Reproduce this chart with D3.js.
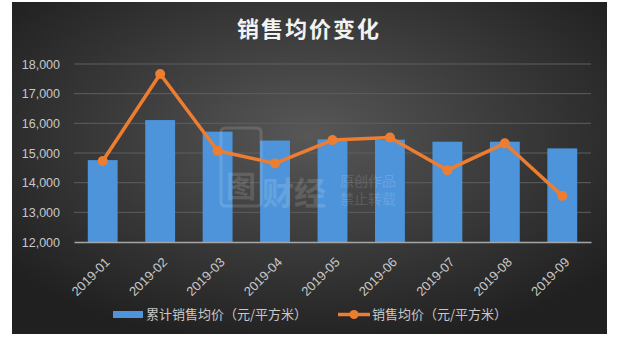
<!DOCTYPE html>
<html>
<head>
<meta charset="utf-8">
<script src="https://cdn.jsdelivr.net/npm/d3@7"></script>
<style>
  body { margin: 0; background: #fff; }
  text { font-family: "Liberation Sans", "Noto Sans CJK SC", sans-serif; }
</style>
</head>
<body>
<div id="chart"></div>
<script>
var months = ["2019-01", "2019-02", "2019-03", "2019-04", "2019-05", "2019-06", "2019-07", "2019-08", "2019-09"];
var cumPrice = [14760, 16110, 15720, 15420, 15460, 15450, 15380, 15380, 15155];
var monthPrice = [14730, 17665, 15075, 14650, 15435, 15525, 14420, 15325, 13555];
var yTicks = [12000, 13000, 14000, 15000, 16000, 17000, 18000];
var title = "销售均价变化";
var barName = "累计销售均价（元/平方米）";
var lineName = "销售均价（元/平方米）";

var W = 620, H = 351;
var margin = {top: 64, right: 29, bottom: 109, left: 74},
    width = W - margin.left - margin.right,
    height = H - margin.top - margin.bottom;

var root = d3.select("#chart").append("svg")
    .attr("width", W)
    .attr("height", H);

var defs = root.append("defs");
var grad = defs.append("radialGradient")
    .attr("id", "bg")
    .attr("cx", "50%").attr("cy", "40%").attr("r", "65%");
grad.append("stop").attr("offset", "0%").attr("stop-color", "#575757");
grad.append("stop").attr("offset", "100%").attr("stop-color", "#202020");

root.append("rect")
    .attr("x", 12).attr("y", 2)
    .attr("width", 595).attr("height", 332)
    .attr("fill", "url(#bg)");

root.append("text")
    .attr("x", 309)
    .attr("y", 37)
    .attr("text-anchor", "middle")
    .attr("fill", "#f2f2f2")
    .style("font-size", "22px")
    .style("font-weight", "bold")
    .style("letter-spacing", "2px")
    .style("font-family", "'Noto Sans CJK SC', sans-serif")
    .text(title);

var svg = root.append("g")
    .attr("transform", "translate(" + margin.left + "," + margin.top + ")");

var x = d3.scaleBand()
    .domain(months)
    .range([0, width])
    .paddingInner(0.48)
    .paddingOuter(0.24);

var y = d3.scaleLinear()
    .domain([12000, 18000])
    .range([height, 0]);

// gridlines
svg.append("g")
    .selectAll("line")
    .data(yTicks.slice(1))
    .enter()
    .append("line")
        .attr("x1", 0)
        .attr("x2", width)
        .attr("y1", function(d) { return y(d) })
        .attr("y2", function(d) { return y(d) })
        .attr("stroke", "#5e5e5e")
        .attr("stroke-width", 1);

var yAxis = svg.append("g")
    .call(d3.axisLeft(y).tickValues(yTicks).tickSize(0).tickPadding(14).tickFormat(d3.format(",")));
yAxis.select(".domain").remove();
yAxis.selectAll("text")
    .attr("fill", "#c8c8c8")
    .style("font-size", "12.5px");

svg.append("g")
    .selectAll("rect")
    .data(cumPrice)
    .enter()
    .append("rect")
        .attr("x", function(d, i) { return x(months[i]) })
        .attr("y", function(d) { return y(d) })
        .attr("width", x.bandwidth())
        .attr("height", function(d) { return height - y(d) })
        .attr("fill", "#4e94da");

// watermark, drawn over the bars
var wm = svg.append("g").attr("opacity", 0.13);
wm.append("rect")
    .attr("x", 147).attr("y", 64)
    .attr("width", 40).attr("height", 78)
    .attr("rx", 4)
    .attr("fill", "none")
    .attr("stroke", "#ffffff")
    .attr("stroke-width", 3);
wm.append("text")
    .attr("x", 152).attr("y", 133)
    .attr("fill", "#ffffff")
    .style("font-size", "30px")
    .style("font-weight", "bold")
    .text("图");
wm.append("text")
    .attr("x", 188).attr("y", 141)
    .attr("fill", "#ffffff")
    .style("font-size", "32px")
    .style("font-weight", "bold")
    .text("财经");
wm.append("text")
    .attr("x", 266).attr("y", 122)
    .attr("fill", "#ffffff")
    .style("font-size", "14px")
    .text("原创作品");
wm.append("text")
    .attr("x", 266).attr("y", 140)
    .attr("fill", "#ffffff")
    .style("font-size", "14px")
    .text("禁止转载");

var xAxis = svg.append("g")
    .attr("transform", "translate(0," + height + ")")
    .call(d3.axisBottom(x).tickSize(0).tickPadding(0));
xAxis.select(".domain")
    .attr("stroke", "#a6a6a6")
    .attr("stroke-width", 1.5);
xAxis.selectAll("text")
    .attr("fill", "#c8c8c8")
    .style("font-size", "13px")
    .attr("text-anchor", "end")
    .attr("dy", "0")
    .attr("transform", "translate(8,21) rotate(-45)");

var cx = function(d, i) { return x(months[i]) + x.bandwidth() / 2 };

svg.append("path")
    .datum(monthPrice)
    .attr("fill", "none")
    .attr("stroke", "#ed7d31")
    .attr("stroke-width", 3.5)
    .attr("stroke-linejoin", "round")
    .attr("d", d3.line()
        .x(cx)
        .y(function(d) { return y(d) }));

svg.append("g")
    .selectAll("circle")
    .data(monthPrice)
    .enter()
    .append("circle")
        .attr("cx", cx)
        .attr("cy", function(d) { return y(d) })
        .attr("r", 5)
        .attr("fill", "#ed7d31");

// legend
var lg = root.append("g");
lg.append("rect")
    .attr("x", 113).attr("y", 311)
    .attr("width", 30).attr("height", 7)
    .attr("fill", "#4e94da");
lg.append("text")
    .attr("x", 146).attr("y", 319)
    .attr("fill", "#c8c8c8")
    .style("font-size", "13px")
    .style("font-family", "'Noto Sans CJK SC', sans-serif")
    .text(barName);
lg.append("line")
    .attr("x1", 338).attr("x2", 370)
    .attr("y1", 314.5).attr("y2", 314.5)
    .attr("stroke", "#ed7d31")
    .attr("stroke-width", 3.5);
lg.append("circle")
    .attr("cx", 354).attr("cy", 314.5)
    .attr("r", 4.5)
    .attr("fill", "#ed7d31");
lg.append("text")
    .attr("x", 372).attr("y", 319)
    .attr("fill", "#c8c8c8")
    .style("font-size", "13px")
    .style("font-family", "'Noto Sans CJK SC', sans-serif")
    .text(lineName);
</script>
</body>
</html>
